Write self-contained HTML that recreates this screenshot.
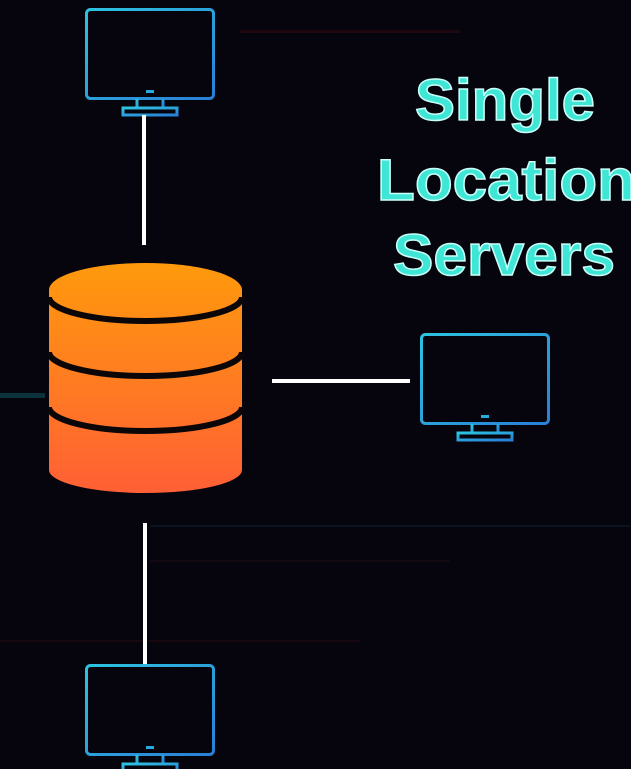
<!DOCTYPE html>
<html><head><meta charset="utf-8"><style>
html,body{margin:0;padding:0;background:#06050e;}
svg{display:block}
</style></head><body>
<svg width="631" height="769" viewBox="0 0 631 769" xmlns="http://www.w3.org/2000/svg">
<defs>
<linearGradient id="cyl" x1="0" y1="0" x2="0" y2="1">
<stop offset="0" stop-color="#ff9a0c"/><stop offset="1" stop-color="#ff5f35"/>
</linearGradient>
<linearGradient id="mon" x1="0" y1="0" x2="1" y2="1">
<stop offset="0" stop-color="#2cc3e0"/><stop offset="1" stop-color="#2a7fd6"/>
</linearGradient>
<g id="m" fill="none" stroke="url(#mon)" stroke-width="3">
<rect x="1.5" y="1.5" width="127" height="89" rx="4"/>
<line x1="2" y1="77" x2="128" y2="77"/>
<rect x="61" y="82" width="8" height="3" fill="#2aa9dc" stroke="none"/>
<path d="M52 91 L52 100 M78 91 L78 100"/>
<rect x="38" y="100" width="54" height="7"/>
</g>
</defs>
<rect width="631" height="769" fill="#06050e"/>
<g opacity="0.35">
<rect x="240" y="30" width="220" height="3" fill="#4a0f14"/>
<rect x="150" y="525" width="480" height="2" fill="#123040"/>
<rect x="0" y="640" width="360" height="2" fill="#3a0e14"/>
<rect x="150" y="560" width="300" height="2" fill="#301018"/>
<rect x="0" y="393" width="45" height="5" fill="#1a8a90"/>
</g>
<use href="#m" x="85" y="8"/>
<use href="#m" x="420" y="333"/>
<use href="#m" x="85" y="664"/>
<line x1="144" y1="115" x2="144" y2="245" stroke="#fff" stroke-width="4"/>
<line x1="272" y1="381" x2="410" y2="381" stroke="#fff" stroke-width="4"/>
<line x1="145" y1="523" x2="145" y2="664" stroke="#fff" stroke-width="4"/>
<path d="M49 290 A96.5 27 0 0 1 242 290 L242 470 A96.5 23 0 0 1 49 470 Z" fill="url(#cyl)"/>
<g fill="none" stroke="#0b0608" stroke-width="6">
<path d="M49 297 A96.5 24 0 0 0 242 297"/>
<path d="M49 352 A96.5 24 0 0 0 242 352"/>
<path d="M49 407 A96.5 24 0 0 0 242 407"/>
</g>
<g font-family="Liberation Sans, sans-serif" font-weight="bold" font-size="58" fill="#3fe6d6" stroke="#c8fff8" stroke-width="1.5">
<text x="415" y="120" textLength="180" lengthAdjust="spacingAndGlyphs">Single</text>
<text x="377" y="200" textLength="258" lengthAdjust="spacingAndGlyphs">Location</text>
<text x="393" y="275" textLength="222" lengthAdjust="spacingAndGlyphs">Servers</text>
</g>
</svg>
</body></html>
